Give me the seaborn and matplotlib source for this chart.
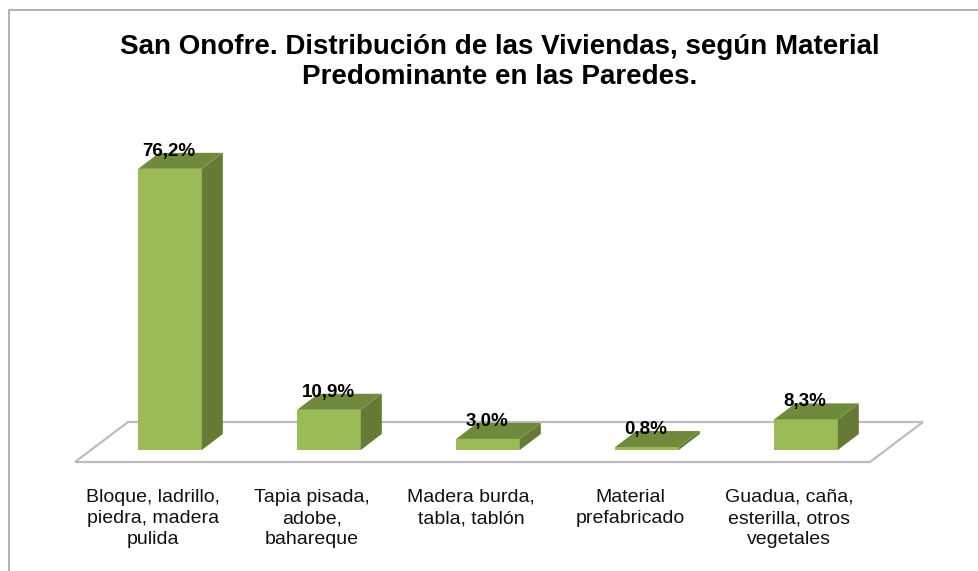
import numpy as np
import pandas as pd
import matplotlib
matplotlib.use('Agg')
import matplotlib.pyplot as plt
import seaborn as sns
from matplotlib.lines import Line2D
from matplotlib.patches import Polygon
from matplotlib.transforms import Affine2D

# datos
categorias = ['Bloque, ladrillo,\npiedra, madera\npulida',
              'Tapia pisada,\nadobe,\nbahareque',
              'Madera burda,\ntabla, tablón',
              'Material\nprefabricado',
              'Guadua, caña,\nesterilla, otros\nvegetales']
valores = [76.2, 10.9, 3.0, 0.8, 8.3]
etiquetas = ['76,2%', '10,9%', '3,0%', '0,8%', '8,3%']
titulo = 'San Onofre. Distribución de las Viviendas, según Material\nPredominante en las Paredes.'

W, H = 979, 571
DX, DY = 21, 16  # profundidad del efecto 3D en pixeles

sns.set_theme(style='white')
plt.rcParams['font.family'] = ['Liberation Sans', 'DejaVu Sans']

df = pd.DataFrame({'categoria': categorias, 'valor': valores})

fig = plt.figure(figsize=(W / 100, H / 100), dpi=100, facecolor='white')
# pixeles de la imagen, con origen arriba a la izquierda
px = Affine2D().scale(1, -1).translate(0, H)

# marco: solo arriba y a la izquierda, el resto queda cortado
fig.add_artist(Line2D([9, 9, W], [H, 10, 10], transform=px, color='#a3a3a3', lw=1.2, zorder=-2))

# piso en perspectiva
fig.add_artist(Polygon([(75, 462), (128, 422), (923, 422), (870, 462)], closed=True, transform=px,
                       fc='white', ec='#bdbdbd', lw=1.6, zorder=-1))

ax = fig.add_axes([90.5 / W, (H - 450) / H, 795 / W, 320 / H])
ax.patch.set_alpha(0)
sns.barplot(data=df, x='categoria', y='valor', color='#9bbb59', saturation=1, width=0.4,
            linewidth=0, edgecolor='none', ax=ax, zorder=3)
ax.set_xlim(-0.5, 4.5)
ax.set_ylim(0, 320 / 3.69)
ax.set_xlabel('')
ax.set_ylabel('')
ax.set_yticks([])
ax.set_xticks(range(5))
ax.set_xticklabels(categorias, fontsize=14, color='#111111', linespacing=1.33)
ax.tick_params(axis='x', length=0, pad=28)
sns.despine(ax=ax, left=True, bottom=True, top=True, right=True)
# las etiquetas van corridas a la izquierda de las barras
for lab in ax.get_xticklabels():
    lab.set_transform(lab.get_transform() + Affine2D().translate(-17, 0))

fig.canvas.draw()
# caras superior y lateral a partir de cada barra
for p, et in zip(ax.patches, etiquetas):
    (x0, y0), (x1, y1) = ax.transData.transform([(p.get_x(), 0), (p.get_x() + p.get_width(), p.get_height())])
    lado = [(x1, y0), (x1 + DX, y0 + DY), (x1 + DX, y1 + DY), (x1, y1)]
    tapa = [(x0, y1), (x1, y1), (x1 + DX, y1 + DY), (x0 + DX, y1 + DY)]
    ax.add_patch(Polygon(lado, closed=True, transform=None, fc='#667a36', ec='none', zorder=3))
    ax.add_patch(Polygon(tapa, closed=True, transform=None, fc='#6f8a3d', ec='none', zorder=3))
    ax.annotate(et, (p.get_x() + p.get_width() / 2, p.get_height()), xytext=(-1, 13),
                textcoords='offset pixels', ha='center', va='baseline', fontsize=13.5,
                fontweight='bold', color='black', zorder=5)

fig.text(0.5 + 10 / W, 1 - 62 / H, titulo, ha='center', va='center', fontsize=20, fontweight='bold',
         color='black', linespacing=1.17)

fig.savefig('out.png', dpi=100)
